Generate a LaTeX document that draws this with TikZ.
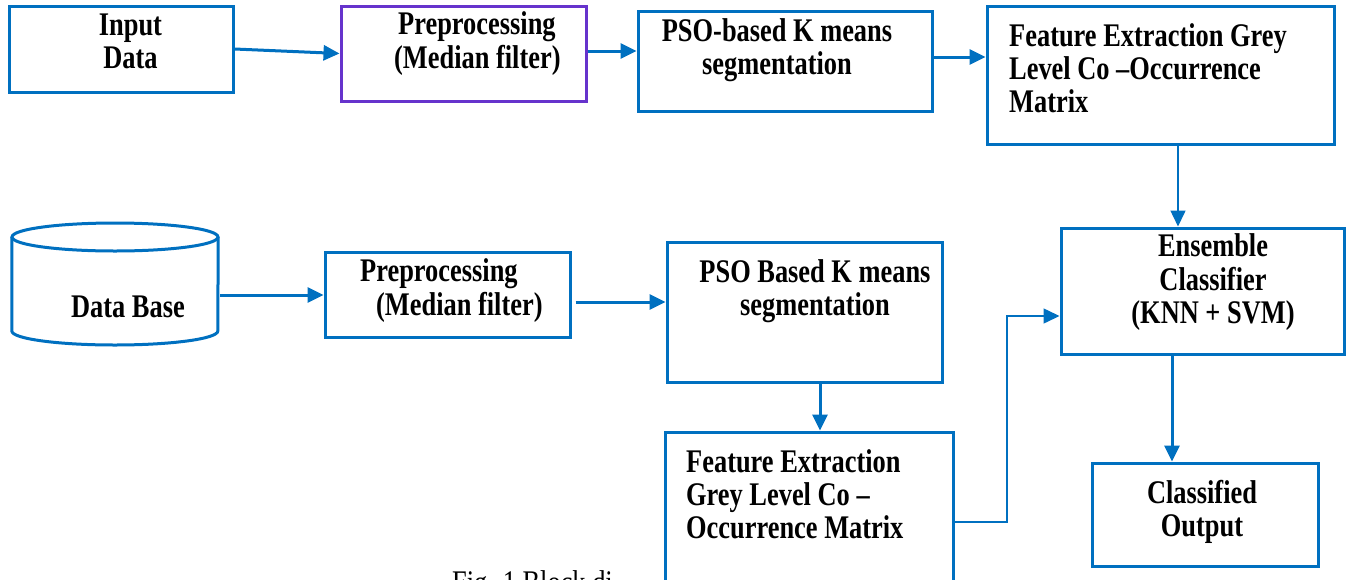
\documentclass[tikz,border=0pt]{standalone}
\usepackage{fontspec}
\setmainfont{Liberation Serif}[FakeStretch=0.8]
\usetikzlibrary{arrows.meta,calc}
\definecolor{bl}{RGB}{0,112,192}
\definecolor{pu}{RGB}{102,51,204}
\begin{document}
\begin{tikzpicture}[x=1pt,y=-1pt,
 box/.style={draw=bl, line width=3pt, fill=white, inner sep=0pt, rectangle},
 txt/.style={font=\fontsize{33}{33}\selectfont\bfseries, inner sep=0pt, text=black},
 captxt/.style={font=\fontsize{33}{33}\selectfont, inner sep=0pt, text=black},
 arr/.style={draw=bl, line width=3pt, -{Triangle[length=16pt,width=15pt]}},
 tarr/.style={draw=bl, line width=1.5pt, -{Triangle[length=16pt,width=15pt]}}]
\clip (0,0) rectangle (1354,579);
\fill[white] (0,0) rectangle (1354,579);

% caption (partly hidden)
\node[captxt, anchor=west] (caption) at (452,587) {\strut Fig. 1 Block di};

% boxes
\node[box, minimum width=224pt, minimum height=86pt] (inp) at (121,49) {};
\node[box, draw=pu, minimum width=245pt, minimum height=95pt] (pre1) at (463.5,53.5) {};
\node[box, minimum width=294pt, minimum height=100pt] (pso1) at (785,61) {};
\node[box, minimum width=347pt, minimum height=138pt] (fe1) at (1160.5,75) {};
\node[inner sep=0pt, minimum width=206pt, minimum height=123pt] (db) at (115,283.5) {};
\node[box, minimum width=245pt, minimum height=85pt] (pre2) at (447.5,294.5) {};
\node[box, minimum width=275pt, minimum height=140pt] (pso2) at (804.5,312) {};
\node[box, minimum width=288pt, minimum height=208pt] (fe2) at (809,536) {};
\node[box, minimum width=283pt, minimum height=126pt] (ens) at (1202.5,291) {};
\node[box, minimum width=226pt, minimum height=103pt] (co) at (1205,514.5) {};

% database cylinder
\draw[bl, line width=3pt] (db.west |- 0,237) -- (db.west |- 0,331)
  arc[start angle=180, end angle=360, x radius=103pt, y radius=14pt]
  -- (db.east |- 0,237);
\draw[bl, line width=3pt] (db.north |- 0,237) ellipse [x radius=103pt, y radius=14pt];

% texts
\node[txt, align=center] (tinp) at (130.5,45.4) {\strut Input\\\strut Data};
\node[txt, align=left, anchor=west] (tpre1) at (394,44.9) {\strut \hspace*{4pt}Preprocessing\\\strut (Median filter)};
\node[txt, align=center] (tpso1) at (777,50.9) {\strut PSO-based K means\\\strut segmentation};
\node[txt, align=left, anchor=west] (tfe1) at (1009,72.4) {\strut Feature Extraction Grey\\\strut Level Co --Occurrence\\\strut Matrix};
\node[txt] (tdb) at (128,310.4) {\strut Data Base};
\node[txt, align=left, anchor=west] (tpre2) at (360,292) {\strut Preprocessing\\\strut \hspace*{16pt}(Median filter)};
\node[txt, align=center] (tpso2) at (815,292) {\strut PSO Based K means\\\strut segmentation};
\node[txt, align=left, anchor=west] (tfe2) at (686,498.4) {\strut Feature Extraction\\\strut Grey Level Co --\\\strut Occurrence Matrix};
\node[txt, align=center] (tens) at (1213,283.4) {\strut Ensemble\\\strut Classifier\\\strut (KNN + SVM)};
\node[txt, align=center] (tco) at (1202,512.9) {\strut Classified\\\strut Output};

% connectors
\draw[arr] (inp.east) -- (pre1.west);
\draw[arr] ([yshift=2.5pt]pre1.east) -- ([yshift=2.5pt]pre1.east -| pso1.west);
\draw[arr] ([yshift=4pt]pso1.east) -- ([yshift=4pt]pso1.east -| fe1.west);
\draw[tarr] ([xshift=17.5pt]fe1.south) -- ([xshift=17.5pt]fe1.south |- ens.north);
\draw[arr, shorten <=2pt] ([yshift=-11.5pt]db.east) -- ([yshift=-11.5pt]db.east -| pre2.west);
\draw[arr, shorten <=4pt] ([yshift=-7.5pt]pre2.east) -- ([yshift=-7.5pt]pre2.east -| pso2.west);
\draw[arr] ([xshift=15.5pt]pso2.south) -- ([xshift=15.5pt]pso2.south |- fe2.north);
\draw[tarr] ([yshift=14pt]fe2.east) -| ($(fe2.east)!.5!(ens.west)$) |- ([yshift=-25pt]ens.west);
\draw[arr] ([xshift=-30.5pt]ens.south) -- ([xshift=-30.5pt]ens.south |- co.north);
\end{tikzpicture}
\end{document}
